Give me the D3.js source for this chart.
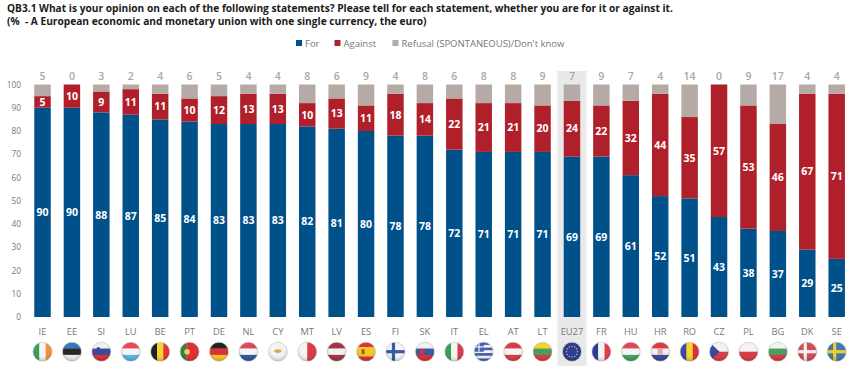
<!DOCTYPE html>
<html><head><meta charset="utf-8"><script src="https://cdn.jsdelivr.net/npm/d3@7"></script>
<style>html,body{margin:0;background:#fff}svg{display:block}text{font-family:"Open Sans",sans-serif}</style></head>
<body><svg id="c" width="850" height="366"></svg>
<script>
const categories=["IE","EE","SI","LU","BE","PT","DE","NL","CY","MT","LV","ES","FI","SK","IT","EL","AT","LT","EU27","FR","HU","HR","RO","CZ","PL","BG","DK","SE"];
const forValues=[90,90,88,87,85,84,83,83,83,82,81,80,78,78,72,71,71,71,69,69,61,52,51,43,38,37,29,25];
const againstValues=[5,10,9,11,11,10,12,13,13,10,13,11,18,14,22,21,21,20,24,22,32,44,35,57,53,46,67,71];
const refusalValues=[5,0,3,2,4,6,5,4,4,8,6,9,4,8,6,8,8,9,7,9,7,4,14,0,9,17,4,4];
const yTicks=[0,10,20,30,40,50,60,70,80,90,100];
const seriesNames=["For","Against","Refusal (SPONTANEOUS)/Don't know"];
const seriesColors=["#00508a","#b0202a","#b5aaa5"];
const titleLines=["QB3.1 What is your opinion on each of the following statements? Please tell for each statement, whether you are for it or against it.","(%  - A European economic and monetary union with one single currency, the euro)"];
// flag: [direction, stripe colours]
const flagStripes={IE:["v","#2e9a52","#f4f4f4","#f08a30"],EE:["h","#2a6fb5","#1a1a1a","#eeeeee"],SI:["h","#f0f0f0","#2a3f9a","#d8232a"],LU:["h","#e8404a","#f4f4f4","#50b0e8"],BE:["v","#111111","#f5d020","#e0252d"],PT:["v","#1f7a3a","#d9252a","#d9252a"],DE:["h","#151515","#d8232a","#f5c518"],NL:["h","#d8404a","#f4f4f4","#2a4a9a"],CY:["h","#f2f2f2"],MT:["v","#f4f4f4","#d8303a"],LV:["h","#9a2a3a","#f0f0f0","#9a2a3a"],ES:["h","#d8252a","#f5c518","#f5c518","#d8252a"],FI:["h","#f4f4f4"],SK:["h","#f0f0f0","#2a4fa0","#d8232a"],IT:["v","#2b9a4f","#f4f4f4","#d8303a"],EL:["h","#3a55a8","#f2f2f2","#3a55a8","#f2f2f2","#3a55a8","#f2f2f2","#3a55a8"],AT:["h","#d8303a","#f4f4f4","#d8303a"],LT:["h","#f2d020","#3a9a4a","#d8303a"],EU27:["h","#22308f"],FR:["v","#1f2f8f","#f4f4f4","#e0303a"],HU:["h","#d8404a","#f4f4f4","#3a9a55"],HR:["h","#d8303a","#f2f2f2","#2a3f9a"],RO:["v","#2a3f9a","#f5d020","#d8252a"],CZ:["h","#f2f2f2","#d8303a"],PL:["h","#f2f2f2","#d8303a"],BG:["h","#f2f2f2","#3a9a55","#d8303a"],DK:["h","#d0404a"],SE:["h","#2f72b0"]};
const flagCross={FI:"#2a4fa0",DK:"#f2f2f2",SE:"#f2c820"};

const svg=d3.select("#c");
const x=d3.scaleBand().domain(categories).range([27.8,851.4]).paddingInner(0.44).paddingOuter(0.22);
const y=d3.scaleLinear().domain([0,100]).range([317,84.5]);
const cx=c=>x(c)+x.bandwidth()/2, flagY=351.7, flagR=9.5;

// titles
svg.selectAll(".t").data(titleLines).join("text").attr("x",7).attr("y",(d,i)=>11.5+i*13)
 .attr("font-size",10.18).attr("font-weight","bold").attr("fill","#1a1a1a").style("white-space","pre").text(d=>d);

// EU27 highlight
svg.append("rect").attr("x",cx("EU27")-14.5).attr("y",71).attr("width",29).attr("height",295).attr("fill","#e9e9e9");

// legend
const legendX=[296,334.5,392.5];
seriesNames.forEach((n,i)=>{
 svg.append("rect").attr("x",legendX[i]).attr("y",40).attr("width",6).attr("height",6).attr("fill",seriesColors[i]);
 svg.append("text").attr("x",legendX[i]+9).attr("y",47).attr("font-size",9.5).attr("fill","#777").text(n);
});

// y axis
const ax=svg.append("g").attr("transform","translate(24,0)").call(d3.axisLeft(y).tickValues(yTicks).tickSize(0).tickPadding(3));
ax.select(".domain").remove();
ax.selectAll("text").attr("font-size",8.3).attr("fill","#777").style("font-family","Open Sans");

// stacks
const rows=categories.map((c,i)=>({c,f:forValues[i],a:againstValues[i],r:refusalValues[i]}));
const stack=d3.stack().keys(["f","a","r"])(rows);
stack.forEach((s,k)=>{
 const g=svg.append("g").attr("fill",seriesColors[k]);
 g.selectAll("rect").data(s).join("rect").attr("x",d=>x(d.data.c)).attr("width",x.bandwidth())
  .attr("y",d=>y(d[1])).attr("height",d=>y(d[0])-y(d[1]));
 if(k<2) svg.append("g").selectAll("text").data(s).join("text").attr("x",d=>cx(d.data.c))
  .attr("y",d=>y((d[0]+d[1])/2)+3.8).attr("text-anchor","middle").attr("font-size",10.5).attr("font-weight","bold").attr("fill","#fff")
  .text(d=>d[1]-d[0]);
});
// refusal labels and country labels
svg.append("g").selectAll("text").data(rows).join("text").attr("x",d=>cx(d.c)).attr("y",80).attr("text-anchor","middle")
 .attr("font-size",10.5).attr("fill","#a8a8a8").attr("font-weight",600).text(d=>d.r);
svg.append("g").selectAll("text").data(categories).join("text").attr("x",cx).attr("y",334.5).attr("text-anchor","middle")
 .attr("font-size",9.3).attr("fill","#777").text(d=>d);

// flags
const defs=svg.append("defs");
const gl=defs.append("radialGradient").attr("id","gloss").attr("cx","50%").attr("cy","35%").attr("r","65%");
gl.append("stop").attr("offset","0.55").attr("stop-color","#fff").attr("stop-opacity",0.06);
gl.append("stop").attr("offset","1").attr("stop-color","#000").attr("stop-opacity",0.22);
categories.forEach((c,i)=>{
 const X=cx(c),Y=flagY,R=flagR,[dir,...cols]=flagStripes[c];
 defs.append("clipPath").attr("id","f"+i).append("circle").attr("cx",X).attr("cy",Y).attr("r",R);
 const g=svg.append("g").attr("clip-path",`url(#f${i})`);
 const s=d3.scaleBand().domain(d3.range(cols.length)).range([-R,R]);
 cols.forEach((col,j)=>{
  if(dir=="v") g.append("rect").attr("x",X+s(j)).attr("y",Y-R).attr("width",s.bandwidth()+.3).attr("height",2*R).attr("fill",col);
  else g.append("rect").attr("x",X-R).attr("y",Y+s(j)).attr("width",2*R).attr("height",s.bandwidth()+.3).attr("fill",col);
 });
 if(flagCross[c]){
  g.append("rect").attr("x",X-R).attr("y",Y-1.6).attr("width",2*R).attr("height",3.2).attr("fill",flagCross[c]);
  g.append("rect").attr("x",X-3.6).attr("y",Y-R).attr("width",3.2).attr("height",2*R).attr("fill",flagCross[c]);
 }
 if(c=="PT"){g.append("circle").attr("cx",X-2.5).attr("cy",Y).attr("r",2.8).attr("fill","#f0d040");}
 if(c=="CY"){g.append("ellipse").attr("cx",X).attr("cy",Y-.6).attr("rx",3.6).attr("ry",1.8).attr("fill","#d8a040");}
 if(c=="ES"){g.append("rect").attr("x",X-4.5).attr("y",Y-2.5).attr("width",3).attr("height",5).attr("fill","#b8402a");}
 if(c=="SI"){g.append("circle").attr("cx",X-3).attr("cy",Y-3).attr("r",1.8).attr("fill","#2a3f9a");}
 if(c=="SK"){g.append("circle").attr("cx",X-3).attr("cy",Y).attr("r",2.6).attr("fill","#d8232a");}
 if(c=="HR"){g.append("rect").attr("x",X-2.6).attr("y",Y-3.4).attr("width",5.2).attr("height",6.4).attr("fill","#e8a0a0");}
 if(c=="CZ"){g.append("path").attr("d",d3.line()([[X-R,Y-R],[X+.5,Y],[X-R,Y+R]])).attr("fill","#2a3f9a");}
 if(c=="EL"){g.append("rect").attr("x",X-R).attr("y",Y-R).attr("width",R).attr("height",R).attr("fill","#3a55a8");
  g.append("rect").attr("x",X-R).attr("y",Y-R/2-.6).attr("width",R).attr("height",1.2).attr("fill","#f2f2f2");
  g.append("rect").attr("x",X-R/2-.6).attr("y",Y-R).attr("width",1.2).attr("height",R).attr("fill","#f2f2f2");}
 if(c=="EU27"){d3.range(12).forEach(k=>{const a=k*Math.PI/6;g.append("circle").attr("cx",X+5.4*Math.cos(a)).attr("cy",Y+5.4*Math.sin(a)).attr("r",.65).attr("fill","#f5d020");});}
 g.append("circle").attr("cx",X).attr("cy",Y).attr("r",R).attr("fill","url(#gloss)");
 svg.append("circle").attr("cx",X).attr("cy",Y).attr("r",R).attr("fill","none").attr("stroke","#bdbdbd").attr("stroke-width",.6);
});
</script></body></html>
